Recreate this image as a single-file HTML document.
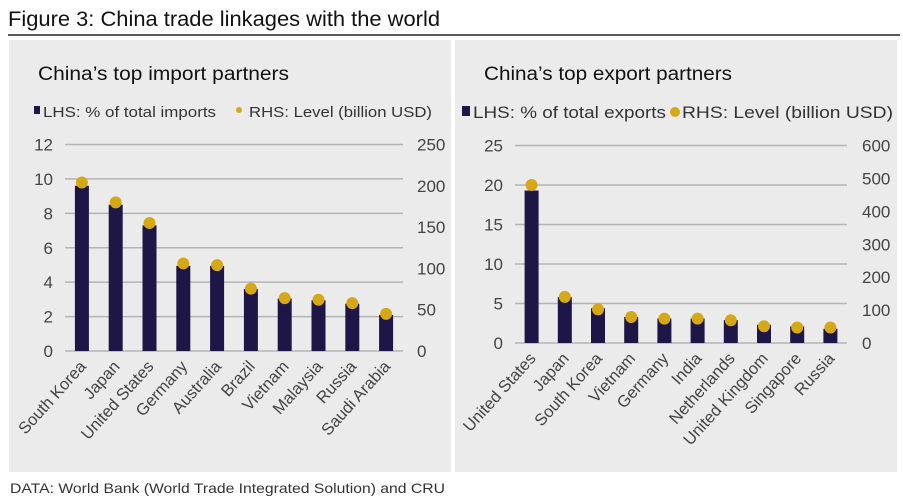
<!DOCTYPE html>
<html><head><meta charset="utf-8"><style>
body{margin:0;width:903px;height:502px;background:#fff;font-family:"Liberation Sans",Arial,sans-serif;overflow:hidden}
svg{display:block}
</style></head><body>
<svg id="s" width="903" height="502" xmlns="http://www.w3.org/2000/svg" font-family="Liberation Sans, Arial, sans-serif">
<text x="8" y="26" font-size="21" fill="#111" textLength="432" lengthAdjust="spacingAndGlyphs">Figure 3: China trade linkages with the world</text>
<line x1="8" y1="35" x2="900" y2="35" stroke="#222" stroke-width="1.5"/>
<rect x="9" y="40" width="442" height="432" fill="#ebebeb"/>
<rect x="455" y="40" width="442" height="432" fill="#ebebeb"/>
<text x="38" y="80" font-size="19" fill="#111" textLength="251" lengthAdjust="spacingAndGlyphs">China’s top import partners</text>
<text x="484" y="80" font-size="19" fill="#111" textLength="248" lengthAdjust="spacingAndGlyphs">China’s top export partners</text>
<g font-size="15" fill="#333">
<rect x="34" y="106" width="6" height="8" fill="#1e1646"/><text x="43" y="117" textLength="173" lengthAdjust="spacingAndGlyphs">LHS: % of total imports</text>
<circle cx="239" cy="110" r="3" fill="#d6a816"/><text x="249" y="117" textLength="183" lengthAdjust="spacingAndGlyphs">RHS: Level (billion USD)</text></g>
<g font-size="17" fill="#333">
<rect x="462" y="106" width="8" height="10" fill="#1e1646"/><text x="473" y="118" textLength="193" lengthAdjust="spacingAndGlyphs">LHS: % of total exports</text>
<circle cx="675" cy="112" r="5" fill="#d6a816"/><text x="682" y="118" textLength="211" lengthAdjust="spacingAndGlyphs">RHS: Level (billion USD)</text></g>
<text x="10" y="493" font-size="14" fill="#333" textLength="435" lengthAdjust="spacingAndGlyphs">DATA: World Bank (World Trade Integrated Solution) and CRU</text>
<g id="c1"></g><g id="c2"></g>
</svg>
<script>
const impCats=["South Korea","Japan","United States","Germany","Australia","Brazil","Vietnam","Malaysia","Russia","Saudi Arabia"];
const impPct=[9.6,8.5,7.3,4.95,4.95,3.6,3.05,2.95,2.75,2.1];
const impLvl=[204,180,155,106,104,75.5,64,62,58,45];
const impLTicks=[0,2,4,6,8,10,12];
const impRTicks=[0,50,100,150,200,250];
const expCats=["United States","Japan","South Korea","Vietnam","Germany","India","Netherlands","United Kingdom","Singapore","Russia"];
const expPct=[19.3,5.8,4.4,3.3,3.1,3.1,2.9,2.3,2.1,1.8];
const expLvl=[480,140,102,79,74,74,69,51,47,47];
const expLTicks=[0,5,10,15,20,25];
const expRTicks=[0,100,200,300,400,500,600];
const NS="http://www.w3.org/2000/svg";
function mk(p,t,a){const e=document.createElementNS(NS,t);for(const k in a)e.setAttribute(k,a[k]);p.appendChild(e);return e;}
function chart(g,o){
  const {x0,x1,y0,y1,cats,pct,lvl,lt,rt,lmax,rmax,lx,rx}=o;
  const yL=v=>y0-(v/lmax)*(y0-y1), yR=v=>y0-(v/rmax)*(y0-y1);
  const bw=(x1-x0)/cats.length, xc=i=>x0+bw*(i+0.5);
  lt.forEach(v=>{const l=mk(g,'line',{x1:x0,x2:x1,y1:yL(v),y2:yL(v),stroke:'#b4b4b4','stroke-width':1.5});
    
    
    const t=mk(g,'text',{x:lx,y:yL(v)+6,'font-size':17,fill:'#444','text-anchor':'end'});t.textContent=v;
    
    });
  rt.forEach(v=>{const t=mk(g,'text',{x:rx,y:yR(v)+6,'font-size':17,fill:'#444','text-anchor':'start'});t.textContent=v;
    
    });
  cats.forEach((c,i)=>{
    const b=mk(g,'rect',{x:xc(i)-7,y:yL(pct[i]),width:14,height:y0-yL(pct[i]),fill:'#1e1646'});
    
    
    const d=mk(g,'circle',{cx:xc(i),cy:yR(lvl[i]),r:6,fill:'#d6a816'});
    
    
    const t=mk(g,'text',{x:xc(i)+5,y:y0+16,'font-size':16.5,fill:'#444','text-anchor':'end',transform:`rotate(-48 ${xc(i)+5} ${y0+16})`});
    t.textContent=c;
    
    
  });
}
chart(document.getElementById('c1'),{x0:65,x1:403,y0:351,y1:144.5,cats:impCats,pct:impPct,lvl:impLvl,lt:impLTicks,rt:impRTicks,lmax:12,rmax:250,lx:53,rx:417});
chart(document.getElementById('c2'),{x0:515,x1:847,y0:343,y1:145.5,cats:expCats,pct:expPct,lvl:expLvl,lt:expLTicks,rt:expRTicks,lmax:25,rmax:600,lx:503,rx:862});
</script>
</body></html>
